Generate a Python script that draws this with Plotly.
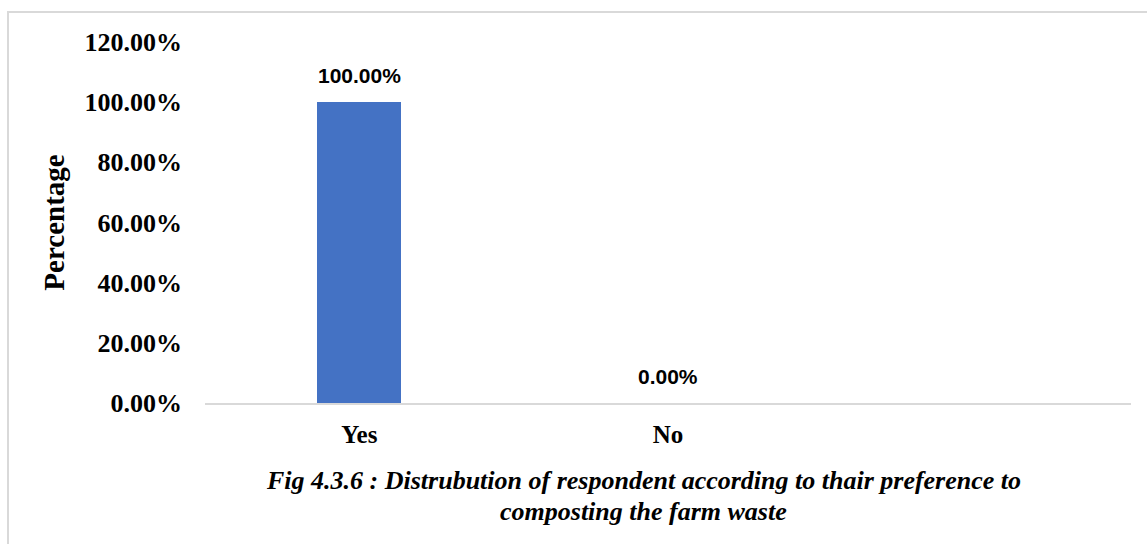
import plotly.graph_objects as go

# Survey responses: share of respondents who prefer composting farm waste
categories = ["Yes", "No"]
percentages = [100.0, 0.0]
y_ticks = [0, 20, 40, 60, 80, 100, 120]

caption_lines = [
    "Fig 4.3.6 : Distrubution of respondent according to thair preference to",
    "composting the farm waste",
]

BAR_COLOR = "#4472C4"
GRID_GREY = "#d9d9d9"
SERIF = "Liberation Serif, Times New Roman, serif"
SANS = "Liberation Sans, Arial, sans-serif"

W, H = 1147, 544
L, R, T, B = 205, 16, 42, 141
plot_w = W - L - R
plot_h = H - T - B


def px_to_paper_x(px):
    return (px - L) / plot_w


def px_to_paper_y(py):
    return ((H - B) - py) / plot_h


fig = go.Figure()
fig.add_trace(go.Bar(
    x=categories,
    y=percentages,
    marker=dict(color=BAR_COLOR, line=dict(width=0)),
    width=0.272,
    showlegend=False,
    hoverinfo="skip",
))

# value labels above each bar
for cat, val in zip(categories, percentages):
    fig.add_annotation(
        x=cat, y=val, xref="x", yref="y",
        text=f"<b>{val:.2f}%</b>",
        showarrow=False, yanchor="bottom", yshift=13,
        font=dict(family=SANS, size=21, color="#000000"),
    )

# two-line caption below the axis, stacked either side of one baseline
caption_split = px_to_paper_y(496)
for line, anchor in zip(caption_lines, ["bottom", "top"]):
    fig.add_annotation(
        x=px_to_paper_x(643), y=caption_split,
        xref="paper", yref="paper",
        text=f"<b><i>{line}</i></b>",
        showarrow=False, xanchor="center", yanchor=anchor,
        borderpad=0,
        font=dict(family=SERIF, size=26, color="#000000"),
    )

# outer chart border
fig.add_shape(
    type="rect", xref="paper", yref="paper",
    x0=px_to_paper_x(8), x1=1.2,
    y0=-0.6, y1=px_to_paper_y(12),
    line=dict(color=GRID_GREY, width=2),
    fillcolor="rgba(0,0,0,0)", layer="below",
)

fig.update_layout(
    width=W, height=H,
    margin=dict(l=L, r=R, t=T, b=B, autoexpand=False),
    paper_bgcolor="white", plot_bgcolor="white",
    bargap=0,
)

fig.update_xaxes(
    type="category",
    range=[-0.5, 2.5],
    showline=True, linecolor=GRID_GREY, linewidth=2,
    showgrid=False, zeroline=False,
    ticks="", ticklabelstandoff=8,
    tickfont=dict(family=SERIF, size=25, color="#000000"),
    tickprefix="<b>", ticksuffix="</b>",
)

fig.update_yaxes(
    range=[0, 120],
    tickvals=y_ticks,
    ticktext=[f"<b>{v:.2f}%</b>" for v in y_ticks],
    showline=False, showgrid=False, zeroline=False,
    ticks="", ticklabelstandoff=22,
    tickfont=dict(family=SERIF, size=26, color="#000000"),
    title=dict(text="<b>Percentage</b>", standoff=11,
               font=dict(family=SERIF, size=29, color="#000000")),
    automargin=False,
)

fig.write_html("out.html")
